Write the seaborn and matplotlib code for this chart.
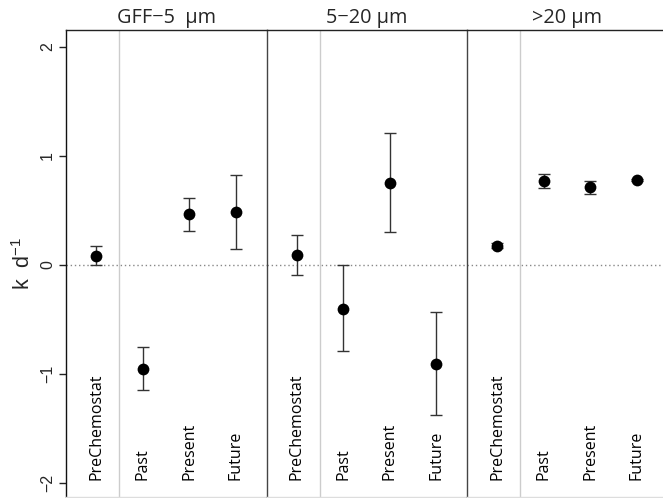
import matplotlib
matplotlib.use("Agg")
import matplotlib.pyplot as plt
import seaborn as sns
import pandas as pd

groups = ["GFF\u22125  \u03bcm", "5\u221220 \u03bcm", ">20 \u03bcm"]
treatments = ["PreChemostat", "Past", "Present", "Future"]

mean_gff = [0.085, -0.95, 0.465, 0.485]
low_gff = [0.0, -1.147, 0.315, 0.15]
high_gff = [0.17, -0.755, 0.618, 0.823]

mean_520 = [0.092, -0.40, 0.755, -0.905]
low_520 = [-0.095, -0.786, 0.30, -1.373]
high_520 = [0.278, -0.003, 1.208, -0.431]

mean_20 = [0.177, 0.77, 0.713, 0.78]
low_20 = [0.155, 0.706, 0.654, 0.77]
high_20 = [0.199, 0.832, 0.77, 0.79]

yticks = [-2, -1, 0, 1, 2]

rows = []
for g, m, lo, hi in zip(groups, [mean_gff, mean_520, mean_20],
                        [low_gff, low_520, low_20], [high_gff, high_520, high_20]):
    for i, t in enumerate(treatments):
        rows.append(dict(group=g, treatment=t, pos=i, k=m[i], lo=lo[i], hi=hi[i]))
df = pd.DataFrame(rows)

sns.set_theme(style="white")
plt.rcParams["font.family"] = ["Open Sans", "DejaVu Sans"]
plt.rcParams["mathtext.default"] = "regular"

W, H = 663, 498
fig = plt.figure(figsize=(W / 100, H / 100), dpi=100)

left_px = 66
panel_px = 200.5
top_px = 30
bottom_px = 497
ylim = (-2.0 - (bottom_px - 483) / 109.0, 2.0 + (47 - top_px) / 109.0)
xlim = (-0.645, 3.655)

for p, g in enumerate(groups):
    x0 = (left_px + p * panel_px) / W
    ax = fig.add_axes([x0, (H - bottom_px) / H, panel_px / W, (bottom_px - top_px) / H])
    sub = df[df.group == g]
    ax.axhline(0, color="#888888", lw=1.0, ls=(0, (1, 2)), zorder=1)
    ax.axvline(0.5, color="#cccccc", lw=1.0, zorder=1)
    ax.errorbar(sub.pos, sub.k, yerr=[sub.k - sub.lo, sub.hi - sub.k], fmt="none",
                ecolor="#333333", elinewidth=1.0, capsize=4.5, capthick=1.0, zorder=2)
    sns.scatterplot(data=sub, x="pos", y="k", ax=ax, color="black", s=72,
                    edgecolor="black", linewidth=0, zorder=3, legend=False)
    for i, t in enumerate(treatments):
        ax.text(i, -1.972, t, rotation=90, ha="center", va="bottom", fontsize=11.5,
                color="black", family=["Open Sans", "DejaVu Sans"])
    ax.set_xlim(*xlim)
    ax.set_ylim(*ylim)
    ax.set_xticks([])
    ax.set_xlabel("")
    ax.set_ylabel("")
    ax.set_title(g, fontsize=14.3, pad=5, family=["Open Sans", "DejaVu Sans"])
    for s in ["left", "top"]:
        ax.spines[s].set_visible(True)
        ax.spines[s].set_linewidth(1.0)
    ax.spines["top"].set_color("#222222")
    ax.spines["bottom"].set_color("#dddddd")
    ax.spines["bottom"].set_linewidth(1.0)
    ax.spines["right"].set_visible(False)
    if p == 0:
        ax.spines["left"].set_color("#111111")
        ax.set_yticks(yticks)
        ax.set_yticklabels([str(v).replace("-", "\u2212") for v in yticks],
                           rotation=90, va="center", fontsize=11.5,
                           family=["Liberation Sans", "DejaVu Sans"])
        ax.tick_params(axis="y", direction="out", length=5, width=1.0,
                       color="#222222", pad=3, left=True)
        ax.set_ylabel("k  d$^{-1}$", fontsize=15.5,
                      family=["Liberation Sans", "DejaVu Sans"])
        ax.yaxis.set_label_coords((35 - left_px) / panel_px, 0.5)
    else:
        ax.spines["left"].set_color("#444444")
        ax.set_yticks([])

fig.savefig("out.png", dpi=100)
